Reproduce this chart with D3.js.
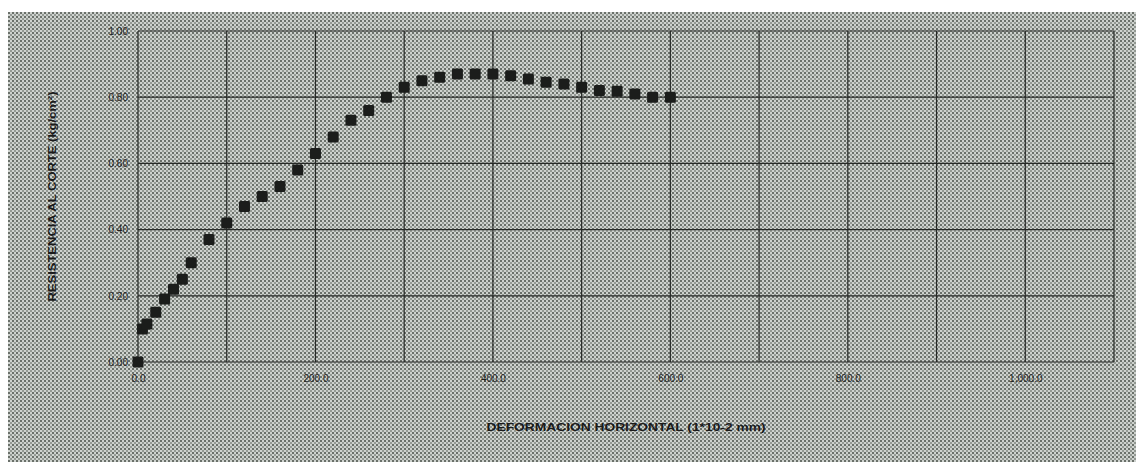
<!DOCTYPE html>
<html>
<head>
<meta charset="utf-8">
<script src="https://cdn.jsdelivr.net/npm/d3@7"></script>
<style>
  body { margin: 0; background: #fff; }
  svg { display: block; }
  .tick text { font-family: "Liberation Sans", Arial, sans-serif; font-size: 10px; fill: #1e1e1e; }
</style>
</head>
<body>
<div id="chart"></div>
<script>
// deformacion horizontal (1*10-2 mm)
var defX = [0, 5, 10, 20, 30, 40, 50, 60, 80, 100, 120, 140, 160, 180,
	200, 220, 240, 260, 280, 300, 320, 340, 360, 380, 400,
	420, 440, 460, 480, 500, 520, 540, 560, 580, 600];
// resistencia al corte (kg/cm2)
var resY = [0.00, 0.10, 0.115, 0.15, 0.19, 0.22, 0.25, 0.30, 0.37, 0.42, 0.47, 0.50, 0.53, 0.58,
	0.63, 0.68, 0.73, 0.76, 0.80, 0.83, 0.85, 0.86, 0.87, 0.87, 0.87,
	0.865, 0.855, 0.845, 0.84, 0.83, 0.82, 0.818, 0.81, 0.80, 0.80];

var xTicks = [0, 200, 400, 600, 800, 1000];
var xGrid = [0, 100, 200, 300, 400, 500, 600, 700, 800, 900, 1000, 1100];
var yTicks = [0, 0.2, 0.4, 0.6, 0.8, 1.0];

var W = 1136, H = 462;
var margin = {top: 31, right: 22, bottom: 100, left: 138},
	width = W - margin.left - margin.right,
	height = H - margin.top - margin.bottom;

var svg = d3.select("#chart").append("svg")
	.attr("width", W)
	.attr("height", H);

// scanned halftone background
var defs = svg.append("defs");
var pat = defs.append("pattern")
	.attr("id", "halftone")
	.attr("width", 4).attr("height", 4)
	.attr("patternUnits", "userSpaceOnUse");
pat.append("rect").attr("width", 4).attr("height", 4).attr("fill", "#ced2ce");
pat.append("rect").attr("x", 0).attr("y", 0).attr("width", 2).attr("height", 2).attr("fill", "#6a706a");
pat.append("rect").attr("x", 2).attr("y", 2).attr("width", 2).attr("height", 2).attr("fill", "#939993");

svg.append("rect")
	.attr("x", 8).attr("y", 12)
	.attr("width", W - 8).attr("height", H - 12)
	.attr("fill", "url(#halftone)");

var g = svg.append("g")
	.attr("transform", "translate(" + margin.left + "," + margin.top + ")");

var x = d3.scaleLinear().domain([0, 1100]).range([0, width]);
var y = d3.scaleLinear().domain([0, 1]).range([height, 0]);

// grid
g.append("g").selectAll("line.v")
	.data(xGrid).enter().append("line")
	.attr("x1", function(d) { return x(d); })
	.attr("x2", function(d) { return x(d); })
	.attr("y1", 0).attr("y2", height)
	.attr("stroke", "#262926").attr("stroke-width", 1.2);

g.append("g").selectAll("line.h")
	.data(yTicks).enter().append("line")
	.attr("x1", 0).attr("x2", width)
	.attr("y1", function(d) { return y(d); })
	.attr("y2", function(d) { return y(d); })
	.attr("stroke", "#262926").attr("stroke-width", 1.2);

var xAxis = d3.axisBottom(x).tickValues(xTicks).tickSize(0).tickPadding(13)
	.tickFormat(d3.format(",.1f"));
var yAxis = d3.axisLeft(y).tickValues(yTicks).tickSize(0).tickPadding(10)
	.tickFormat(d3.format(".2f"));

g.append("g")
	.attr("transform", "translate(0," + height + ")")
	.call(xAxis)
	.call(function(s) { s.select(".domain").remove(); });

g.append("g")
	.call(yAxis)
	.call(function(s) { s.select(".domain").remove(); });

// points
g.append("g").selectAll("rect.pt")
	.data(defX).enter().append("rect")
	.attr("x", function(d) { return x(d) - 5.5; })
	.attr("y", function(d, i) { return y(resY[i]) - 5.5; })
	.attr("width", 11).attr("height", 11)
	.attr("rx", 1.5)
	.attr("fill", "#1b1d1b");

// titles
svg.append("text")
	.attr("x", margin.left + width / 2)
	.attr("y", 431)
	.attr("text-anchor", "middle")
	.attr("textLength", 279)
	.attr("lengthAdjust", "spacingAndGlyphs")
	.style("font-family", "Liberation Sans, Arial, sans-serif")
	.style("font-weight", "bold")
	.style("font-size", "11px")
	.style("fill", "#1a1a1a")
	.text("DEFORMACION HORIZONTAL (1*10-2 mm)");

svg.append("text")
	.attr("transform", "translate(56," + (margin.top + height / 2) + ") rotate(-90)")
	.attr("text-anchor", "middle")
	.attr("textLength", 210)
	.attr("lengthAdjust", "spacingAndGlyphs")
	.style("font-family", "Liberation Sans, Arial, sans-serif")
	.style("font-weight", "bold")
	.style("font-size", "11px")
	.style("fill", "#1a1a1a")
	.text("RESISTENCIA AL CORTE (kg/cm²)");
</script>
</body>
</html>
